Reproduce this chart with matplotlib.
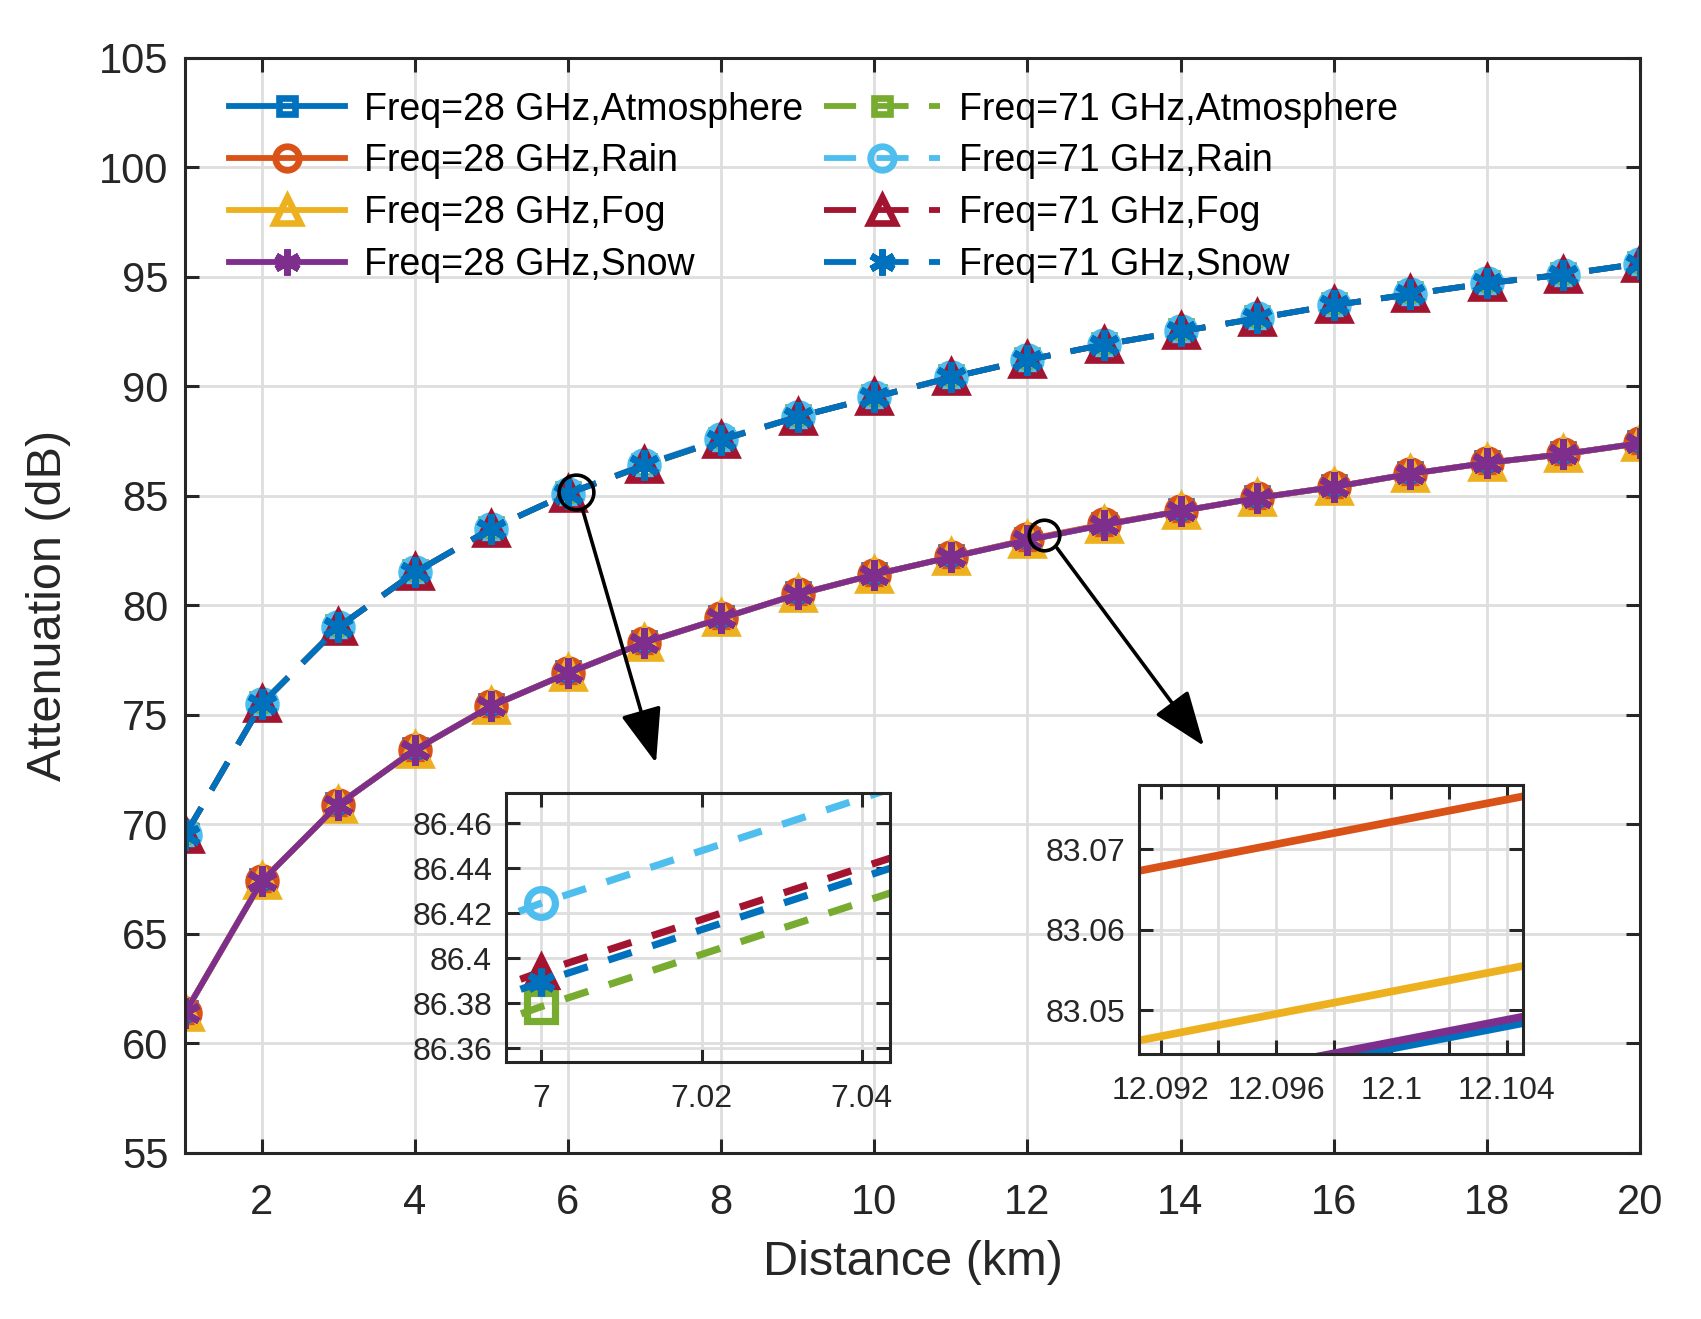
import matplotlib
matplotlib.use("Agg")
import matplotlib.pyplot as plt
from matplotlib.ticker import FuncFormatter, FixedLocator

plt.rcParams['font.family'] = ['Liberation Sans', 'DejaVu Sans']

# distance (km)
dist = [1, 2, 3, 4, 5, 6, 7, 8, 9, 10, 11, 12, 13, 14, 15, 16, 17, 18, 19, 20]

# 28 GHz attenuation (dB)
att28_atm = [61.4, 67.4, 70.9, 73.4, 75.4, 76.9, 78.3, 79.4, 80.5, 81.4,
             82.2, 82.9757, 83.6707, 84.3, 84.9, 85.4, 86.0, 86.5, 86.9, 87.4]
att28_rain = [61.4, 67.4, 70.9, 73.4, 75.4, 76.9, 78.3, 79.4, 80.5, 81.4,
              82.2, 83.0039, 83.6989, 84.3, 84.9, 85.4, 86.0, 86.5, 86.9, 87.4]
att28_fog = [61.4, 67.4, 70.9, 73.4, 75.4, 76.9, 78.3, 79.4, 80.5, 81.4,
             82.2, 82.9828, 83.6778, 84.3, 84.9, 85.4, 86.0, 86.5, 86.9, 87.4]
att28_snow = [61.4, 67.4, 70.9, 73.4, 75.4, 76.9, 78.3, 79.4, 80.5, 81.4,
              82.2, 82.9765, 83.6715, 84.3, 84.9, 85.4, 86.0, 86.5, 86.9, 87.4]

# 71 GHz attenuation (dB)
att71_atm = [69.5, 75.5, 79.0, 81.5, 83.5, 85.1, 86.3785, 87.5385, 88.6, 89.5,
             90.4, 91.2, 91.9, 92.5, 93.1, 93.7, 94.2, 94.7, 95.1, 95.6]
att71_rain = [69.5, 75.5, 79.0, 81.5, 83.5, 85.1, 86.4245, 87.5905, 88.6, 89.5,
              90.4, 91.2, 91.9, 92.5, 93.1, 93.7, 94.2, 94.7, 95.1, 95.6]
att71_fog = [69.5, 75.5, 79.0, 81.5, 83.5, 85.1, 86.3940, 87.5540, 88.6, 89.5,
             90.4, 91.2, 91.9, 92.5, 93.1, 93.7, 94.2, 94.7, 95.1, 95.6]
att71_snow = [69.5, 75.5, 79.0, 81.5, 83.5, 85.1, 86.3895, 87.5495, 88.6, 89.5,
              90.4, 91.2, 91.9, 92.5, 93.1, 93.7, 94.2, 94.7, 95.1, 95.6]

labels = ['Freq=28 GHz,Atmosphere', 'Freq=28 GHz,Rain', 'Freq=28 GHz,Fog', 'Freq=28 GHz,Snow',
          'Freq=71 GHz,Atmosphere', 'Freq=71 GHz,Rain', 'Freq=71 GHz,Fog', 'Freq=71 GHz,Snow']

series = [att28_atm, att28_rain, att28_fog, att28_snow,
          att71_atm, att71_rain, att71_fog, att71_snow]
colors = ['#0072BD', '#D95319', '#EDB120', '#7E2F8E',
          '#77AC30', '#4DBEEE', '#A2142F', '#0072BD']
markers = ['s', 'o', '^', (6, 2, 0), 's', 'o', '^', (6, 2, 0)]
msizes = [7, 10, 11, 11, 7, 10, 11, 11]
styles = ['-', '-', '-', '-', '--', '--', '--', '--']

txt = '#262626'
grid_c = '#dedede'

fig = plt.figure(figsize=(8.505, 6.595), dpi=200)
ax = fig.add_axes([0.1088, 0.1259, 0.9641 - 0.1088, 0.9563 - 0.1259])


def style_axes(a, fs):
    a.grid(True, color=grid_c, linewidth=1.0)
    a.set_axisbelow(True)
    for s in a.spines.values():
        s.set_color(txt)
        s.set_linewidth(1.1)
    a.tick_params(direction='in', top=True, right=True, length=5, width=1.1,
                  colors=txt, labelsize=fs, pad=6)


lines = []
for y, c, m, ms, ls, lab in zip(series, colors, markers, msizes, styles, labels):
    ln, = ax.plot(dist, y, color=c, linestyle=ls, linewidth=2.1, marker=m,
                  markersize=ms, markeredgewidth=2.4, markerfacecolor='none',
                  label=lab)
    if ls == '--':
        ln.set_dashes((5.5, 3.5))
    lines.append(ln)

ax.set_xlim(1, 20)
ax.set_ylim(55, 105)
ax.set_xticks([2, 4, 6, 8, 10, 12, 14, 16, 18, 20])
ax.set_yticks([55, 60, 65, 70, 75, 80, 85, 90, 95, 100, 105])
style_axes(ax, 15)
ax.tick_params(axis='x', pad=11)
ax.set_xlabel('Distance (km)', fontsize=17.5, color=txt, labelpad=6)
ax.set_ylabel('Attenuation (dB)', fontsize=17.5, color=txt, labelpad=10)

leg = ax.legend(loc='upper left', bbox_to_anchor=(0.012, 0.993), ncol=2, frameon=False,
                fontsize=13.5, handlelength=3.1, markerscale=0.85, labelspacing=0.42,
                columnspacing=0.55, handletextpad=0.5, borderaxespad=0.3)

# zoom marks and arrows
ax.plot([6.106], [85.19], marker='o', markersize=12.5, markerfacecolor='none',
        markeredgecolor='black', markeredgewidth=1.3, zorder=10)
ax.plot([12.217], [83.21], marker='o', markersize=11, markerfacecolor='none',
        markeredgecolor='black', markeredgewidth=1.3, zorder=10)
arrow_kw = dict(arrowstyle='-|>,head_length=0.85,head_width=0.32',
                color='black', lw=1.3, mutation_scale=20, shrinkA=0, shrinkB=0)
ax.annotate('', xy=(656, 556), xycoords='figure pixels',
            xytext=(583, 808), textcoords='figure pixels', arrowprops=arrow_kw)
ax.annotate('', xy=(1204, 573), xycoords='figure pixels',
            xytext=(1057, 771), textcoords='figure pixels', arrowprops=arrow_kw)

fmt = FuncFormatter(lambda v, p: '%g' % round(v, 6))

# inset 1: 71 GHz around 7 km
ax1 = fig.add_axes([0.2975, 0.1951, 0.2257, 0.2039])
ax1.set_facecolor('none')
for i in [4, 5, 6, 7]:
    ln, = ax1.plot(dist, series[i], color=colors[i], linestyle='--', linewidth=2.6,
                   marker=markers[i], markersize=10, markeredgewidth=2.6,
                   markerfacecolor='none' if i in (4, 5) else colors[i])
    ln.set_dashes((3.4, 3.0))
ax1.set_xlim(6.9956, 7.0435)
ax1.set_ylim(86.354, 86.4736)
ax1.set_xticks([7, 7.02, 7.04])
ax1.set_yticks([86.36, 86.38, 86.40, 86.42, 86.44, 86.46])
ax1.xaxis.set_major_formatter(fmt)
ax1.yaxis.set_major_formatter(fmt)
style_axes(ax1, 11.5)
ax1.tick_params(pad=5)
ax1.tick_params(axis='x', pad=8)

# inset 2: 28 GHz around 12.1 km
ax2 = fig.add_axes([0.6696, 0.2007, 0.2259, 0.2042])
ax2.set_facecolor('none')
for i in [0, 1, 2, 3]:
    ax2.plot(dist, series[i], color=colors[i], linestyle='-', linewidth=2.8)
ax2.set_xlim(12.09124, 12.10458)
ax2.set_ylim(83.0445, 83.078)
ax2.xaxis.set_major_locator(FixedLocator([12.092, 12.094, 12.096, 12.098,
                                          12.100, 12.102, 12.104]))
ax2.xaxis.set_major_formatter(FuncFormatter(
    lambda v, p: '%g' % round(v, 6) if p % 2 == 0 else ''))
ax2.set_yticks([83.05, 83.06, 83.07])
ax2.yaxis.set_major_formatter(fmt)
style_axes(ax2, 11.5)
ax2.tick_params(pad=5)
ax2.tick_params(axis='x', pad=8)

fig.savefig('out.png', dpi=200, facecolor='white')
